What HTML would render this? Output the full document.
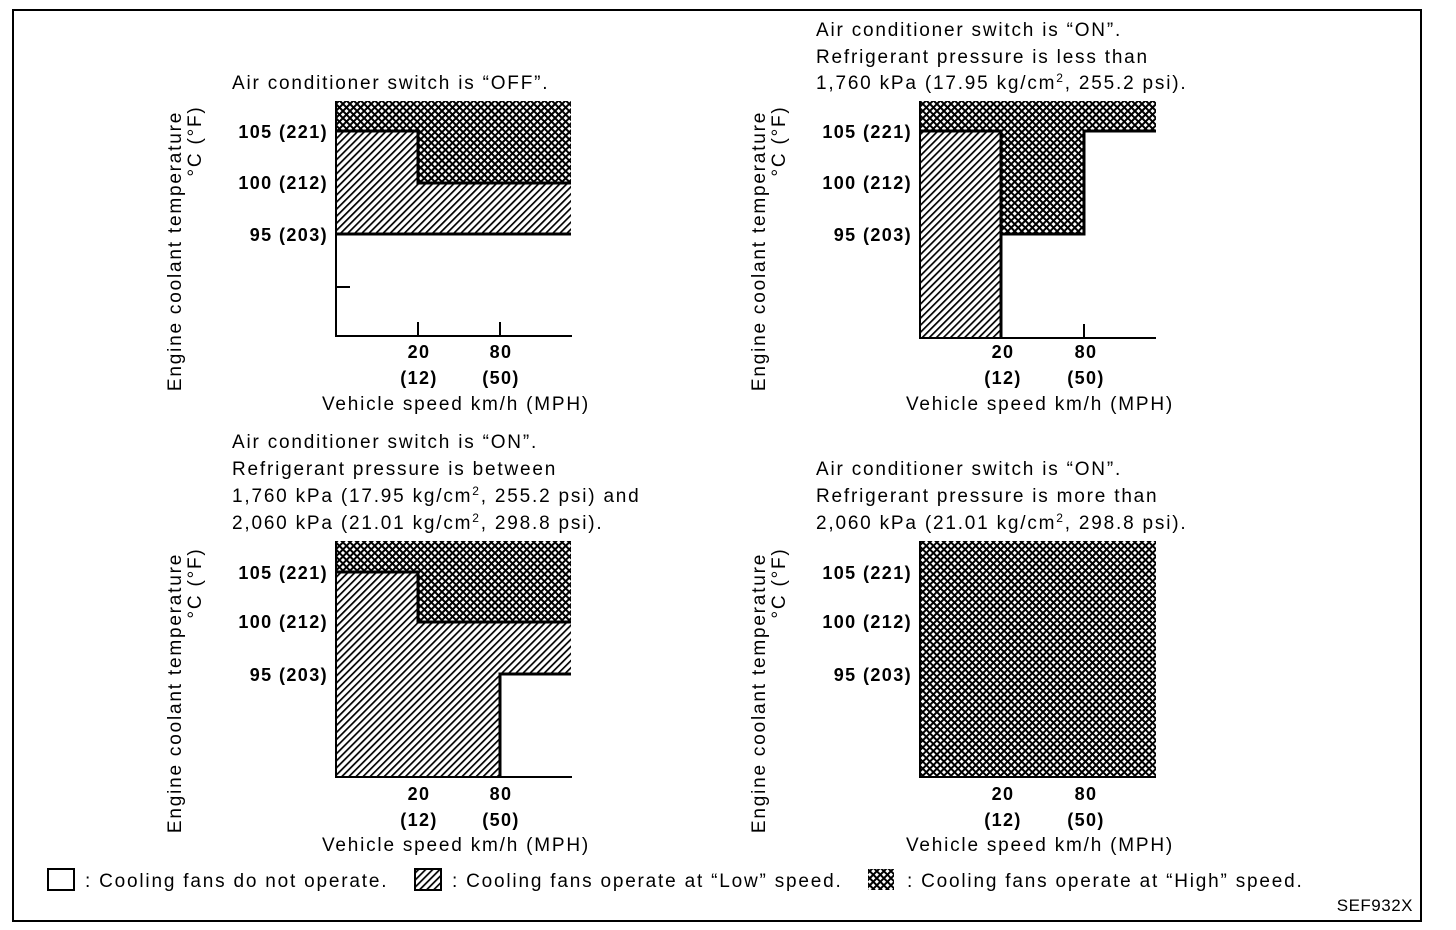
<!DOCTYPE html>
<html><head><meta charset="utf-8"><style>
html,body{margin:0;padding:0;background:#fff}
svg{display:block}
text{font-family:"Liberation Sans",sans-serif;fill:#000}
.t{font-size:19px;letter-spacing:1.8px}
.b{font-size:18px;font-weight:bold;letter-spacing:1.4px}
</style></head><body>
<svg width="1456" height="930" viewBox="0 0 1456 930" xmlns="http://www.w3.org/2000/svg">
<defs>
<pattern id="h" width="5" height="5" patternUnits="userSpaceOnUse" patternTransform="rotate(45)">
<rect width="5" height="5" fill="#fff"/><rect x="0" y="0" width="1.7" height="5" fill="#000"/>
</pattern>
<pattern id="x" width="5" height="5" patternUnits="userSpaceOnUse" patternTransform="rotate(45)">
<rect width="5" height="5" fill="#fff"/><rect x="0" y="0" width="2" height="5" fill="#000"/><rect x="0" y="0" width="5" height="2" fill="#000"/>
</pattern>
</defs>
<rect x="13" y="10" width="1408" height="911" fill="none" stroke="#000" stroke-width="2"/>

<!-- Chart 1 -->
<text class="t" x="232" y="89">Air conditioner switch is “OFF”.</text>
<rect x="335" y="101" width="236" height="30" fill="url(#x)"/>
<rect x="418" y="131" width="153" height="52" fill="url(#x)"/>
<rect x="335" y="131" width="83" height="52" fill="url(#h)"/>
<rect x="335" y="183" width="236" height="51" fill="url(#h)"/>
<g fill="none" stroke="#000" stroke-width="3">
<polyline points="335,131 418,131 418,183 571,183"/>
<line x1="335" y1="234" x2="571" y2="234"/>
</g>
<g stroke="#000" stroke-width="2">
<line x1="336" y1="101" x2="336" y2="337"/><line x1="335" y1="336" x2="572" y2="336"/>
<line x1="418" y1="322" x2="418" y2="336"/><line x1="500" y1="322" x2="500" y2="336"/>
<line x1="336" y1="287" x2="350" y2="287"/>
</g>
<g class="b" text-anchor="end"><text x="328" y="138">105 (221)</text><text x="328" y="189">100 (212)</text><text x="328" y="241">95 (203)</text></g>
<g class="b" text-anchor="middle"><text x="419" y="358">20</text><text x="419" y="384">(12)</text><text x="501" y="358">80</text><text x="501" y="384">(50)</text></g>
<text class="t" x="456" y="410" text-anchor="middle">Vehicle speed km/h (MPH)</text>
<text class="t" transform="translate(181,251) rotate(-90)" text-anchor="middle">Engine coolant temperature</text>
<text class="t" transform="translate(201,141) rotate(-90)" text-anchor="middle">°C (°F)</text>

<!-- Chart 2 -->
<text class="t" x="816" y="36">Air conditioner switch is “ON”.</text>
<text class="t" x="816" y="63">Refrigerant pressure is less than</text>
<text class="t" x="816" y="89">1,760 kPa (17.95 kg/cm<tspan font-size="12" dy="-7">2</tspan><tspan dy="7">, 255.2 psi).</tspan></text>
<rect x="919" y="101" width="237" height="30" fill="url(#x)"/>
<rect x="919" y="131" width="82" height="207" fill="url(#h)"/>
<rect x="1001" y="131" width="83" height="103" fill="url(#x)"/>
<g fill="none" stroke="#000" stroke-width="3">
<polyline points="919,131 1001,131 1001,338"/>
<polyline points="1001,234 1084,234 1084,131 1156,131"/>
</g>
<g stroke="#000" stroke-width="2">
<line x1="920" y1="101" x2="920" y2="339"/><line x1="919" y1="338" x2="1156" y2="338"/>
<line x1="1084" y1="324" x2="1084" y2="338"/>
</g>
<g class="b" text-anchor="end"><text x="912" y="138">105 (221)</text><text x="912" y="189">100 (212)</text><text x="912" y="241">95 (203)</text></g>
<g class="b" text-anchor="middle"><text x="1003" y="358">20</text><text x="1003" y="384">(12)</text><text x="1086" y="358">80</text><text x="1086" y="384">(50)</text></g>
<text class="t" x="1040" y="410" text-anchor="middle">Vehicle speed km/h (MPH)</text>
<text class="t" transform="translate(765,251) rotate(-90)" text-anchor="middle">Engine coolant temperature</text>
<text class="t" transform="translate(785,141) rotate(-90)" text-anchor="middle">°C (°F)</text>

<!-- Chart 3 -->
<text class="t" x="232" y="448">Air conditioner switch is “ON”.</text>
<text class="t" x="232" y="475">Refrigerant pressure is between</text>
<text class="t" x="232" y="502">1,760 kPa (17.95 kg/cm<tspan font-size="12" dy="-7">2</tspan><tspan dy="7">, 255.2 psi) and</tspan></text>
<text class="t" x="232" y="529">2,060 kPa (21.01 kg/cm<tspan font-size="12" dy="-7">2</tspan><tspan dy="7">, 298.8 psi).</tspan></text>
<rect x="335" y="541" width="236" height="31" fill="url(#x)"/>
<rect x="418" y="572" width="153" height="50" fill="url(#x)"/>
<rect x="335" y="572" width="83" height="205" fill="url(#h)"/>
<rect x="418" y="622" width="82" height="155" fill="url(#h)"/>
<rect x="500" y="622" width="71" height="52" fill="url(#h)"/>
<g fill="none" stroke="#000" stroke-width="3">
<polyline points="335,572 418,572 418,622 571,622"/>
<polyline points="500,777 500,674 571,674"/>
</g>
<g stroke="#000" stroke-width="2">
<line x1="336" y1="541" x2="336" y2="778"/><line x1="335" y1="777" x2="572" y2="777"/>
</g>
<g class="b" text-anchor="end"><text x="328" y="579">105 (221)</text><text x="328" y="628">100 (212)</text><text x="328" y="681">95 (203)</text></g>
<g class="b" text-anchor="middle"><text x="419" y="800">20</text><text x="419" y="826">(12)</text><text x="501" y="800">80</text><text x="501" y="826">(50)</text></g>
<text class="t" x="456" y="851" text-anchor="middle">Vehicle speed km/h (MPH)</text>
<text class="t" transform="translate(181,693) rotate(-90)" text-anchor="middle">Engine coolant temperature</text>
<text class="t" transform="translate(201,583) rotate(-90)" text-anchor="middle">°C (°F)</text>

<!-- Chart 4 -->
<text class="t" x="816" y="475">Air conditioner switch is “ON”.</text>
<text class="t" x="816" y="502">Refrigerant pressure is more than</text>
<text class="t" x="816" y="529">2,060 kPa (21.01 kg/cm<tspan font-size="12" dy="-7">2</tspan><tspan dy="7">, 298.8 psi).</tspan></text>
<rect x="919" y="541" width="237" height="236" fill="url(#x)"/>
<g stroke="#000" stroke-width="2">
<line x1="920" y1="541" x2="920" y2="778"/><line x1="919" y1="777" x2="1156" y2="777"/>
</g>
<g class="b" text-anchor="end"><text x="912" y="579">105 (221)</text><text x="912" y="628">100 (212)</text><text x="912" y="681">95 (203)</text></g>
<g class="b" text-anchor="middle"><text x="1003" y="800">20</text><text x="1003" y="826">(12)</text><text x="1086" y="800">80</text><text x="1086" y="826">(50)</text></g>
<text class="t" x="1040" y="851" text-anchor="middle">Vehicle speed km/h (MPH)</text>
<text class="t" transform="translate(765,693) rotate(-90)" text-anchor="middle">Engine coolant temperature</text>
<text class="t" transform="translate(785,583) rotate(-90)" text-anchor="middle">°C (°F)</text>

<!-- Legend -->
<rect x="48" y="869" width="26" height="21" fill="#fff" stroke="#000" stroke-width="2"/>
<text class="t" x="85" y="887">: Cooling fans do not operate.</text>
<rect x="415" y="869" width="26" height="21" fill="url(#h)" stroke="#000" stroke-width="2"/>
<text class="t" x="452" y="887">: Cooling fans operate at “Low” speed.</text>
<rect x="868" y="869" width="26" height="21" fill="url(#x)"/>
<text class="t" x="907" y="887">: Cooling fans operate at “High” speed.</text>
<text x="1413" y="911" text-anchor="end" style="font-size:17px;letter-spacing:0.5px">SEF932X</text>
</svg>
</body></html>
